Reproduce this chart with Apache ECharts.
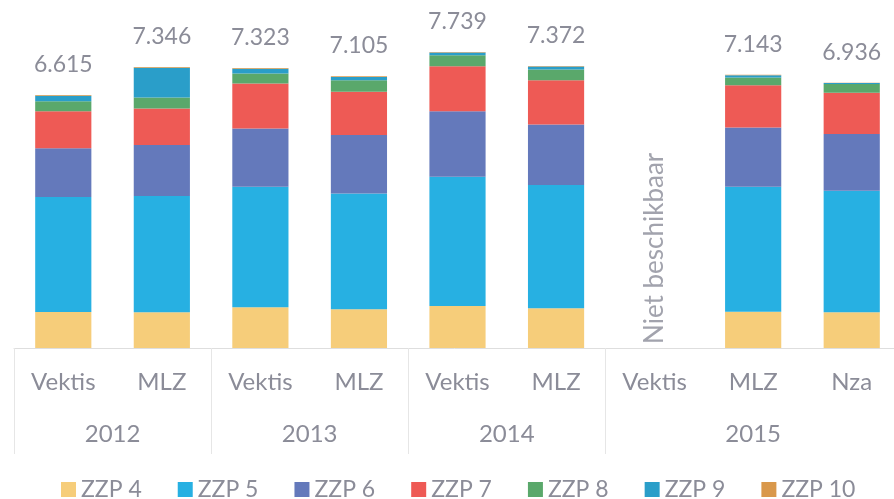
<!DOCTYPE html>
<html>
<head>
<meta charset="utf-8">
<script src="https://cdn.jsdelivr.net/npm/echarts@6/dist/echarts.min.js"></script>
<style>
  html, body { margin: 0; padding: 0; background: #fff; }
  #myChart { width: 894px; height: 499px; }
</style>
</head>
<body>
<div id="myChart"></div>
<script>
  // bronnen per jaar
  var categories = ['Vektis', 'MLZ', 'Vektis', 'MLZ', 'Vektis', 'MLZ', 'Vektis', 'MLZ', 'Nza']
  var years = ['2012', '2013', '2014', '2015']
  var yearSpan = [2, 2, 2, 3] // aantal bronnen per jaar

  var zzp4 = [940, 933, 1063, 1011, 1097, 1037, null, 950, 933]
  var zzp5 = [3005, 3039, 3153, 3031, 3379, 3223, null, 3266, 3179]
  var zzp6 = [1280, 1333, 1524, 1524, 1716, 1585, null, 1550, 1481]
  var zzp7 = [967, 958, 1176, 1132, 1176, 1158, null, 1106, 1080]
  var zzp8 = [261, 287, 261, 305, 287, 279, null, 200, 230]
  var zzp9 = [140, 780, 125, 85, 70, 75, null, 60, 25]
  var zzp10 = [22, 16, 21, 17, 14, 15, null, 11, 8]
  var totals = [6615, 7346, 7323, 7105, 7739, 7372, null, 7143, 6936]

  var notAvailable = [[6, 0]]
  var notAvailableText = 'Niet beschikbaar'

  var seriesNames = ['ZZP 4', 'ZZP 5', 'ZZP 6', 'ZZP 7', 'ZZP 8', 'ZZP 9', 'ZZP 10']
  var seriesData = [zzp4, zzp5, zzp6, zzp7, zzp8, zzp9, zzp10]
  var colors = ['#f6cd7a', '#27b0e2', '#6479bb', '#ee5a55', '#5aa86b', '#2a9ec9', '#d9984b']

  var textColor = '#8b8c98'
  var fontFamily = 'Lato, "Open Sans", sans-serif'

  // jaarlabels midden onder hun groep
  var yearAt = {}
  var pos = 0
  yearSpan.forEach(function(n, i) {
    yearAt[pos + n / 2] = years[i]
    pos += n
  })
  // scheidingslijnen aan het begin van elke groep
  var groupStart = []
  pos = 0
  yearSpan.forEach(function(n) {
    groupStart.push(pos)
    pos += n
  })

  function fmt(v) {
    return String(v).replace(/\B(?=(\d{3})+(?!\d))/g, '.')
  }

  var series = seriesNames.map(function(name, i) {
    var s = {
      name: name,
      type: 'bar',
      stack: 'zzp',
      barWidth: '57%',
      itemStyle: { color: colors[i] },
      data: seriesData[i]
    }
    if (i === seriesNames.length - 1) {
      s.label = {
        show: true,
        position: 'top',
        distance: 19,
        color: textColor,
        fontFamily: fontFamily,
        fontSize: 23,
        formatter: function(p) {
          return totals[p.dataIndex] == null ? '' : fmt(totals[p.dataIndex])
        }
      }
    }
    return s
  })

  series.push({
    type: 'scatter',
    symbolSize: 0,
    silent: true,
    data: notAvailable,
    label: {
      show: true,
      formatter: notAvailableText,
      position: 'top',
      distance: 4,
      rotate: 90,
      align: 'left',
      verticalAlign: 'middle',
      color: textColor,
      fontFamily: fontFamily,
      fontSize: 26
    }
  })

  var myChart = echarts.init(document.getElementById('myChart'))
  myChart.setOption({
    animation: false,
    color: colors,
    grid: {
      left: 14,
      right: -7,
      top: 42,
      bottom: 151,
      containLabel: false,
      outerBoundsMode: 'none'
    },
    legend: {
      data: seriesNames,
      left: 56,
      top: 473,
      icon: 'rect',
      itemWidth: 15,
      itemHeight: 15,
      itemGap: 36,
      textStyle: {
        color: textColor,
        fontFamily: fontFamily,
        fontSize: 23
      }
    },
    xAxis: [{
      type: 'category',
      data: categories,
      axisLine: { show: true, lineStyle: { color: '#dedede', width: 1 } },
      axisTick: {
        show: true,
        length: 106,
        lineStyle: { color: '#e6e6e6' },
        interval: function(index) {
          return groupStart.indexOf(index) !== -1
        }
      },
      axisLabel: {
        interval: 0,
        margin: 22,
        color: textColor,
        fontFamily: fontFamily,
        fontSize: 24
      }
    }, {
      type: 'value',
      position: 'bottom',
      min: 0,
      max: categories.length,
      interval: 0.5,
      axisLine: { show: false },
      axisTick: { show: false },
      splitLine: { show: false },
      axisLabel: {
        margin: 74,
        color: textColor,
        fontFamily: fontFamily,
        fontSize: 24,
        formatter: function(v) {
          return yearAt[v] || ''
        }
      }
    }],
    yAxis: {
      type: 'value',
      min: 0,
      max: 8000,
      show: false,
      splitLine: { show: false }
    },
    series: series
  })
</script>
</body>
</html>
